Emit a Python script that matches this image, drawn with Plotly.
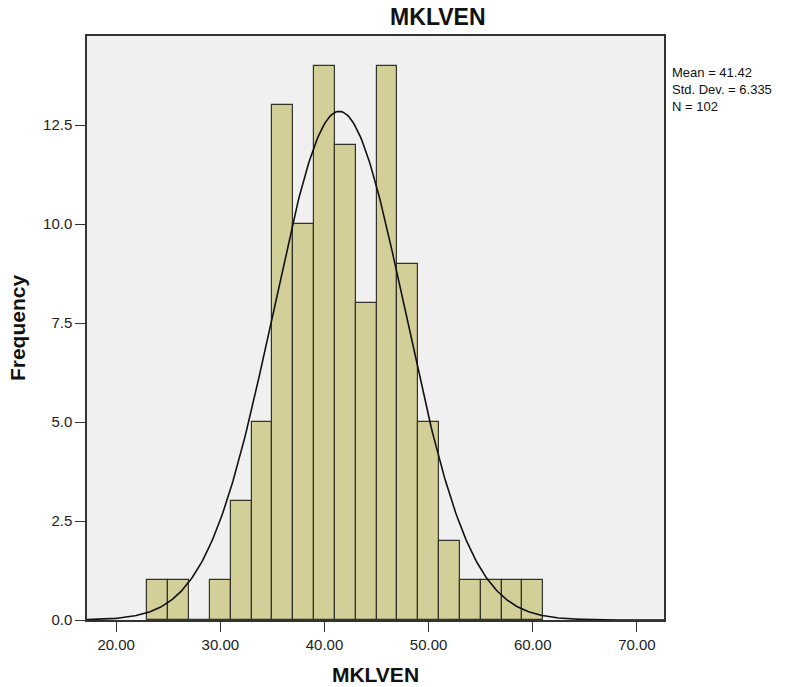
import numpy as np
import plotly.graph_objects as go

# Histogram of MKLVEN: bin edges (width 2) and counts
bin_left = [23, 25, 27, 29, 31, 33, 35, 37, 39, 41, 43, 45, 47, 49, 51, 53, 55, 57, 59]
counts = [1, 1, 0, 1, 3, 5, 13, 10, 14, 12, 8, 14, 9, 5, 2, 1, 1, 1, 1]
bin_width = 2

mean = 41.42
std_dev = 6.335
n_obs = 102

x_ticks = [20, 30, 40, 50, 60, 70]
y_ticks = [0, 2.5, 5, 7.5, 10, 12.5]

centers = [b + bin_width / 2 for b in bin_left]

# Normal curve scaled to frequency
xs = np.linspace(17.2, 72.6, 400)
ys = n_obs * bin_width / (std_dev * np.sqrt(2 * np.pi)) * np.exp(-0.5 * ((xs - mean) / std_dev) ** 2)

fig = go.Figure()
fig.add_trace(go.Bar(
    x=centers, y=counts, width=bin_width,
    marker=dict(color="#D3CF98", line=dict(color="#33332b", width=1.2)),
    hoverinfo="x+y",
))
fig.add_trace(go.Scatter(
    x=xs, y=ys, mode="lines",
    line=dict(color="#111111", width=1.6),
    hoverinfo="skip",
))

font_family = "Liberation Sans, Arial, sans-serif"

fig.update_layout(
    width=795, height=687,
    margin=dict(l=87, r=131, t=36, b=67),
    paper_bgcolor="white",
    plot_bgcolor="#F0F0F0",
    showlegend=False,
    bargap=0,
    font=dict(family=font_family, color="#222222", size=15),
    title=dict(text="<b>MKLVEN</b>", x=0.608, xanchor="center", xref="paper",
               y=0.975, yanchor="middle", font=dict(size=23, color="#111111")),
    xaxis=dict(
        range=[17.2, 72.6], tickvals=x_ticks,
        ticktext=[f"{v:.2f}" for v in x_ticks],
        ticks="outside", ticklen=10, tickcolor="#333333",
        showline=True, linecolor="#333333", linewidth=1.5, mirror=True,
        showgrid=False, zeroline=False, automargin=False,
        title=dict(text="<b>MKLVEN</b>", font=dict(size=21, color="#111111"), standoff=16),
    ),
    yaxis=dict(
        range=[0, 14.75], tickvals=y_ticks,
        ticktext=[f"{v:.1f}" for v in y_ticks],
        ticks="outside", ticklen=10, tickcolor="#333333",
        showline=True, linecolor="#333333", linewidth=1.5, mirror=True,
        showgrid=False, zeroline=False, automargin=False,
        title=dict(text="<b>Frequency</b>", font=dict(size=21, color="#111111"), standoff=12),
    ),
    annotations=[dict(
        text=f"Mean = {mean:.2f}<br>Std. Dev. = {std_dev:.3f}<br>N = {n_obs}",
        xref="paper", yref="paper", x=1.011, y=0.953,
        xanchor="left", yanchor="top", align="left", showarrow=False,
        font=dict(size=13, color="#111111"),
    )],
)

fig.write_html("out.html")
